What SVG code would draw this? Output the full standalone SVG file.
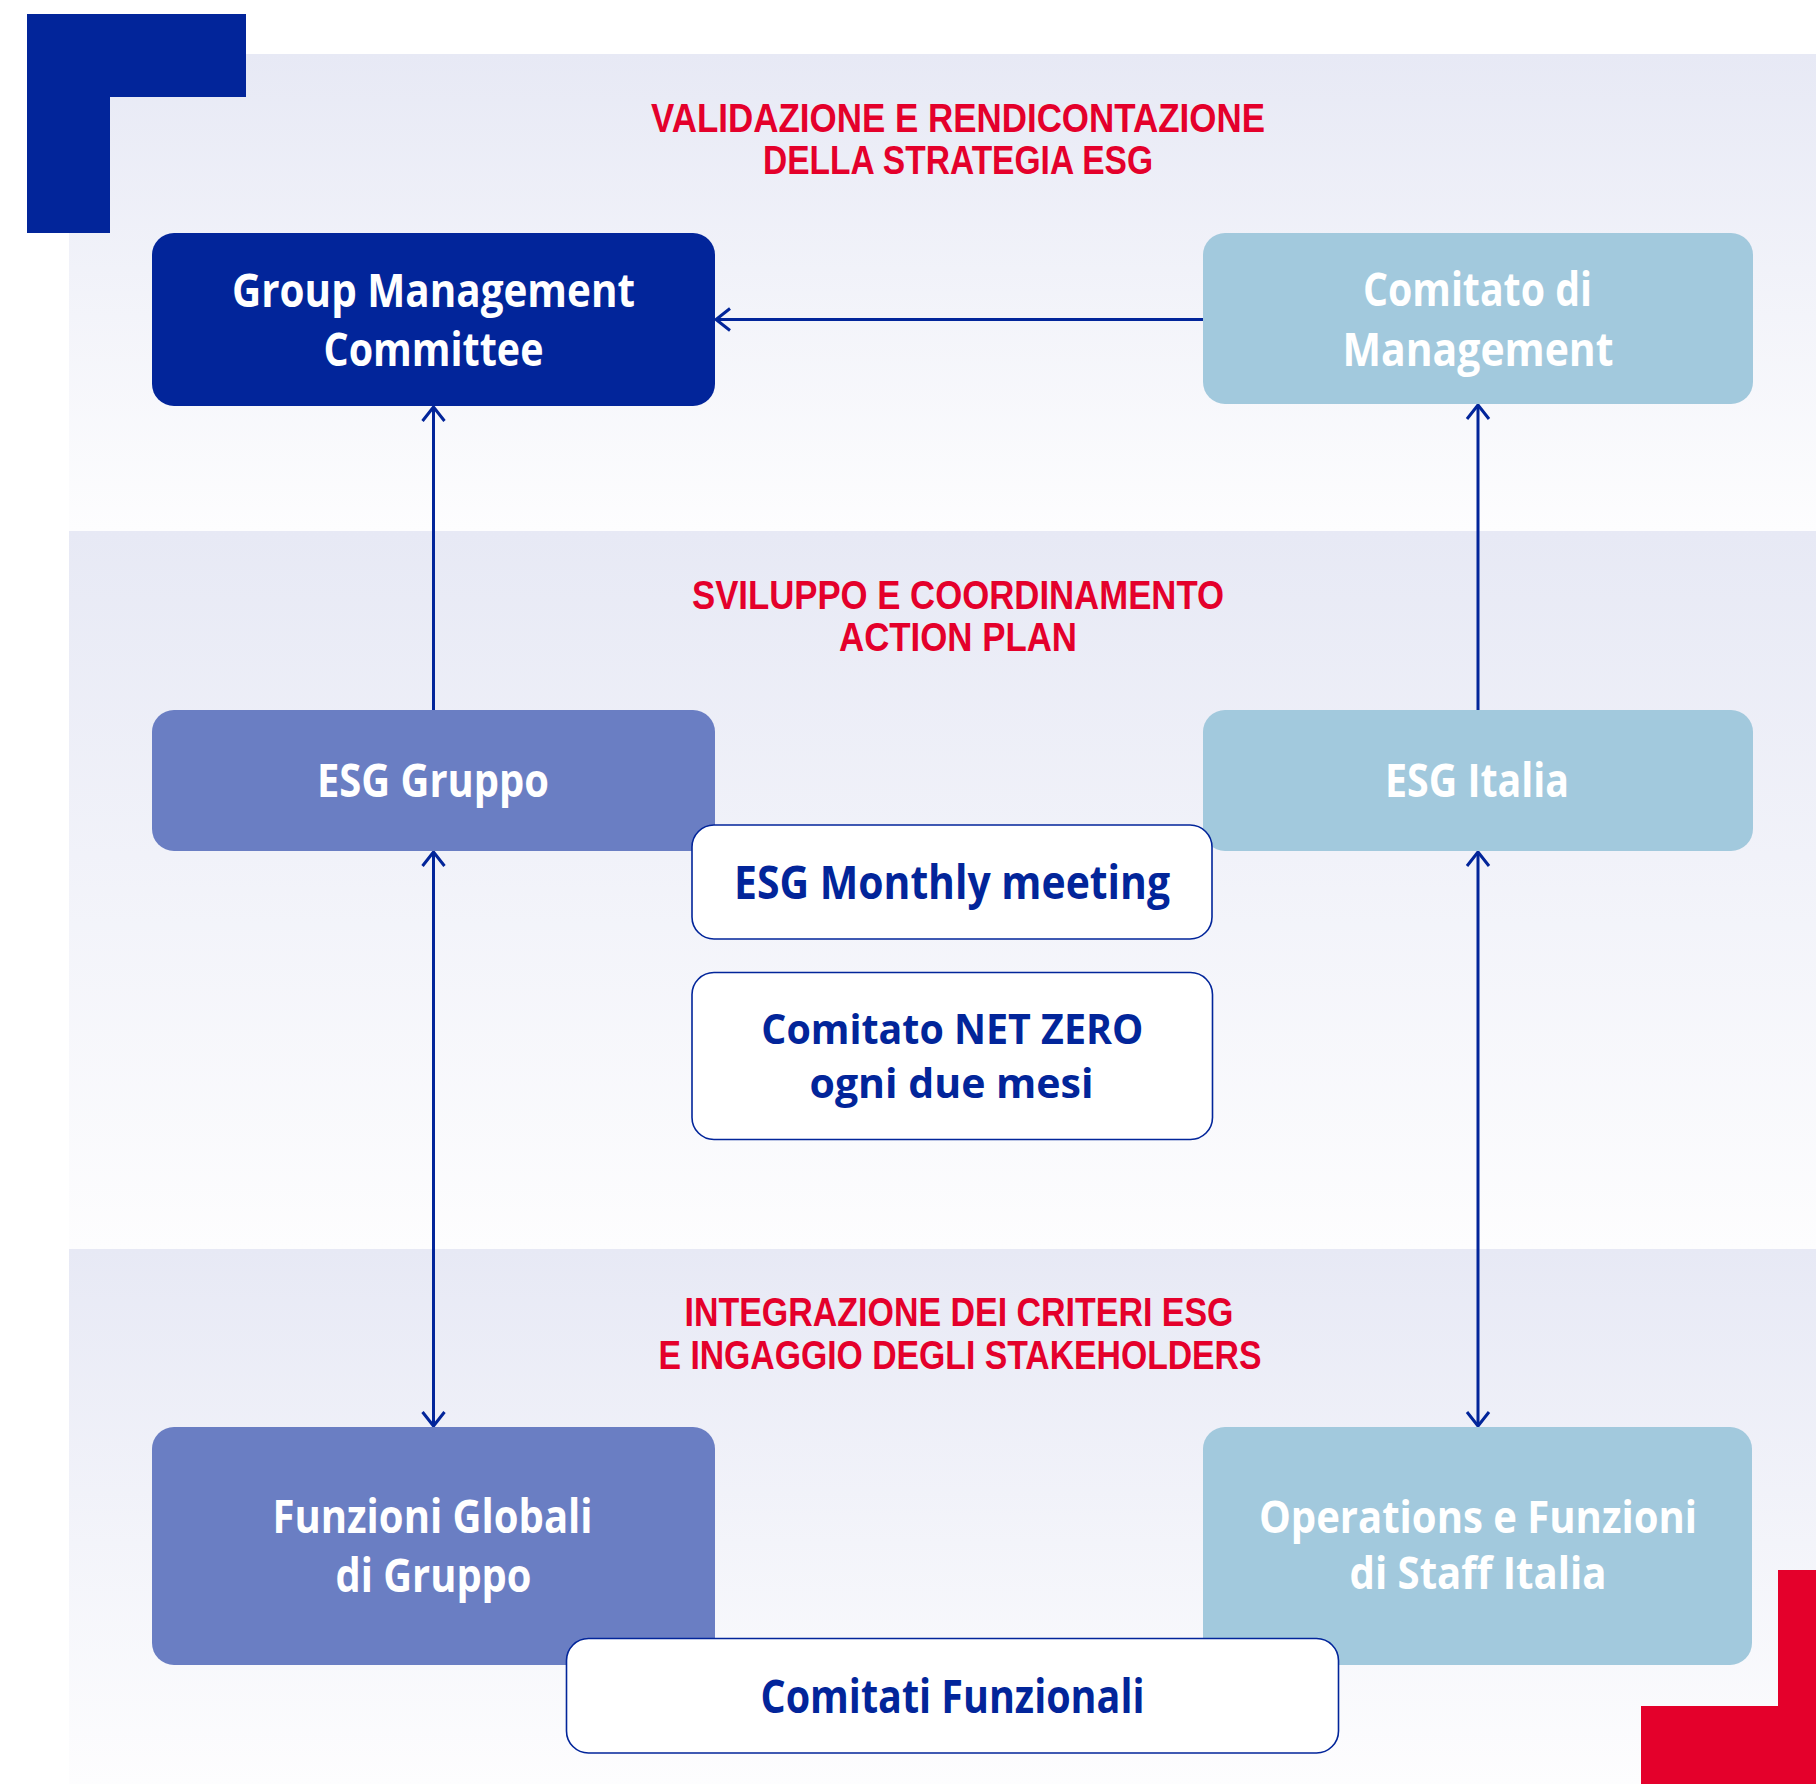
<svg xmlns="http://www.w3.org/2000/svg" width="1816" height="1784" viewBox="0 0 1816 1784">
<style>
.head{font-family:"Liberation Sans",Arial,sans-serif;font-weight:700;font-size:40px;fill:#e4002b;text-anchor:middle}
.lbl{font-family:"Open Sans","Liberation Sans",sans-serif;font-weight:700;font-size:46px;text-anchor:middle}
.sm{font-size:44px}
.xs{font-size:42px}
.w{fill:#ffffff}
.b{fill:#02259a}
.dark{fill:#02259a}
.mid{fill:#6a7ec3}
.light{fill:#a2c9dd}
.pill{fill:#ffffff;stroke:#02259a;stroke-width:1.6}
.conn{fill:none;stroke:#02259a;stroke-width:3}
</style>
<defs>
<linearGradient id="bg" x1="0" y1="0" x2="0" y2="1">
<stop offset="0" stop-color="#e7e9f5"/>
<stop offset="1" stop-color="#fdfdfe"/>
</linearGradient>
<marker id="arr" markerUnits="userSpaceOnUse" markerWidth="40" markerHeight="40" viewBox="-20 -20 40 40" refX="0" refY="0" orient="auto-start-reverse" overflow="visible">
<path d="M-14,-11 L0,0 L-14,11" fill="none" stroke="#02259a" stroke-width="3"/>
</marker>
</defs>
<rect x="0" y="0" width="1816" height="1784" fill="#ffffff"/>
<g id="bands">
<rect x="69" y="54" width="1747" height="477" fill="url(#bg)"/>
<rect x="69" y="531" width="1747" height="718" fill="url(#bg)"/>
<rect x="69" y="1249" width="1747" height="535" fill="url(#bg)"/>
</g>
<g id="corners">
<polygon points="27,14 246,14 246,97 110,97 110,233 27,233" fill="#02259a"/>
<polygon points="1641,1706 1778,1706 1778,1570 1816,1570 1816,1784 1641,1784" fill="#e4002b"/>
</g>
<g id="headings">
<text class="head" x="958" y="132" textLength="614" lengthAdjust="spacingAndGlyphs">VALIDAZIONE E RENDICONTAZIONE</text>
<text class="head" x="958" y="174" textLength="390" lengthAdjust="spacingAndGlyphs">DELLA STRATEGIA ESG</text>
<text class="head" x="958" y="609" textLength="532" lengthAdjust="spacingAndGlyphs">SVILUPPO E COORDINAMENTO</text>
<text class="head" x="958" y="651" textLength="238" lengthAdjust="spacingAndGlyphs">ACTION PLAN</text>
<text class="head" x="959" y="1326" textLength="549" lengthAdjust="spacingAndGlyphs">INTEGRAZIONE DEI CRITERI ESG</text>
<text class="head" x="960" y="1369" textLength="603" lengthAdjust="spacingAndGlyphs">E INGAGGIO DEGLI STAKEHOLDERS</text>
</g>
<g id="connectors">
<path class="conn" d="M1203,319.5 H716" marker-end="url(#arr)"/>
<path class="conn" d="M433.5,710 V407" marker-end="url(#arr)"/>
<path class="conn" d="M1478,710 V405" marker-end="url(#arr)"/>
<path class="conn" d="M433.5,852 V1426" marker-start="url(#arr)" marker-end="url(#arr)"/>
<path class="conn" d="M1478,852 V1426" marker-start="url(#arr)" marker-end="url(#arr)"/>
</g>
<g id="node-gmc">
<rect class="dark" x="152" y="233" width="563" height="173" rx="22"/>
<text class="lbl w" x="433.5" y="307" textLength="403" lengthAdjust="spacingAndGlyphs">Group Management</text>
<text class="lbl w" x="433.5" y="366" textLength="220" lengthAdjust="spacingAndGlyphs">Committee</text>
</g>
<g id="node-comitato-management">
<rect class="light" x="1203" y="233" width="550" height="171" rx="22"/>
<text class="lbl w" x="1477.5" y="306" textLength="229" lengthAdjust="spacingAndGlyphs">Comitato di</text>
<text class="lbl w" x="1478" y="366" textLength="271" lengthAdjust="spacingAndGlyphs">Management</text>
</g>
<g id="node-esg-gruppo">
<rect class="mid" x="152" y="710" width="563" height="141" rx="22"/>
<text class="lbl w" x="433" y="797" textLength="232" lengthAdjust="spacingAndGlyphs">ESG Gruppo</text>
</g>
<g id="node-esg-italia">
<rect class="light" x="1203" y="710" width="550" height="141" rx="22"/>
<text class="lbl w" x="1477" y="797" textLength="184" lengthAdjust="spacingAndGlyphs">ESG Italia</text>
</g>
<g id="node-esg-monthly">
<rect class="pill" x="692" y="825" width="520" height="114" rx="22"/>
<text class="lbl b" x="952" y="899" textLength="436" lengthAdjust="spacingAndGlyphs">ESG Monthly meeting</text>
</g>
<g id="node-net-zero">
<rect class="pill" x="692" y="972.5" width="520.5" height="167" rx="22"/>
<text class="lbl xs b" x="952.3" y="1044" textLength="382" lengthAdjust="spacingAndGlyphs">Comitato NET ZERO</text>
<text class="lbl xs b" x="951.5" y="1098" textLength="284" lengthAdjust="spacingAndGlyphs">ogni due mesi</text>
</g>
<g id="node-funzioni-globali">
<rect class="mid" x="152" y="1427" width="563" height="238" rx="22"/>
<text class="lbl w" x="432.5" y="1533" textLength="320" lengthAdjust="spacingAndGlyphs">Funzioni Globali</text>
<text class="lbl w" x="433.5" y="1592" textLength="196" lengthAdjust="spacingAndGlyphs">di Gruppo</text>
</g>
<g id="node-operations">
<rect class="light" x="1203" y="1427" width="549" height="238" rx="22"/>
<text class="lbl sm w" x="1478" y="1533" textLength="438" lengthAdjust="spacingAndGlyphs">Operations e Funzioni</text>
<text class="lbl sm w" x="1478" y="1589" textLength="257" lengthAdjust="spacingAndGlyphs">di Staff Italia</text>
</g>
<g id="node-comitati-funzionali">
<rect class="pill" x="566.5" y="1638.5" width="772" height="114.5" rx="22"/>
<text class="lbl b" x="952.5" y="1713" textLength="384" lengthAdjust="spacingAndGlyphs">Comitati Funzionali</text>
</g>
</svg>
